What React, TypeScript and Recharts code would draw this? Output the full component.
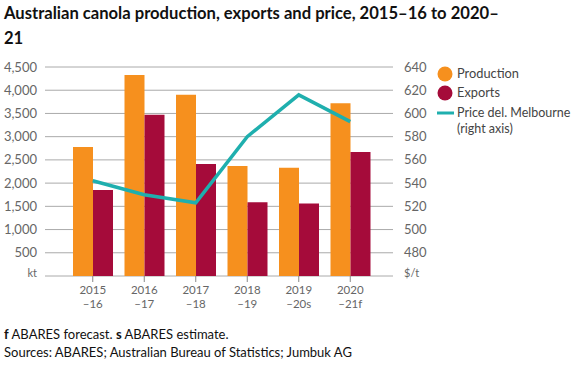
import React from "react";
import {
  ComposedChart,
  Bar,
  Line,
  XAxis,
  YAxis,
  CartesianGrid,
} from "recharts";

// seasons (two-line tick labels)
const seasonTop = ["2015", "2016", "2017", "2018", "2019", "2020"];
const seasonBottom = ["\u201316", "\u201317", "\u201318", "\u201319", "\u201320s", "\u201321f"];

// kt
const production = [2775, 4330, 3900, 2370, 2330, 3720];
const exports = [1850, 3470, 2410, 1590, 1560, 2670];
// $/t
const price = [542, 530, 523, 580, 616, 593];

const leftTicks = [0, 500, 1000, 1500, 2000, 2500, 3000, 3500, 4000, 4500];
const rightTicks = [460, 480, 500, 520, 540, 560, 580, 600, 620, 640];

const ORANGE = "#F6901E";
const MAROON = "#A50B3A";
const TEAL = "#1FAFAE";
const FONT = "Lato, 'Open Sans', sans-serif";

const data = seasonTop.map((s, i) => ({
  season: s,
  production: production[i],
  exports: exports[i],
  price: price[i],
}));

const XTick = (props: any) => {
  const { x, y, payload, index } = props;
  return (
    <g>
      <text x={x} y={y + 10} textAnchor="middle" fill="#666" fontSize={11.5} fontFamily={FONT}>
        {payload.value}
      </text>
      <text x={x} y={y + 24} textAnchor="middle" fill="#666" fontSize={11.5} fontFamily={FONT}>
        {seasonBottom[index]}
      </text>
    </g>
  );
};

const LeftTick = (props: any) => {
  const { x, y, payload } = props;
  const zero = payload.value === 0;
  return (
    <text x={x} y={zero ? y - 3 : y} dy="0.35em" textAnchor="end" fill="#666" fontSize={zero ? 11 : 13} fontFamily={FONT}>
      {zero ? "kt" : payload.value.toLocaleString("en-US")}
    </text>
  );
};

const RightTick = (props: any) => {
  const { x, y, payload } = props;
  const zero = payload.value === 460;
  return (
    <text x={x} y={zero ? y - 3 : y} dy="0.35em" textAnchor="start" fill="#666" fontSize={zero ? 11 : 13} fontFamily={FONT}>
      {zero ? "$/t" : payload.value}
    </text>
  );
};

const LegendBox = () => (
  <svg width={140} height={80} style={{ position: "absolute", left: 437, top: 66, overflow: "visible" }}>
    <circle cx={8} cy={8} r={7.5} fill={ORANGE} />
    <text x={20} y={8} dy="0.35em" fontSize={12.8} fill="#444" fontFamily={FONT}>Production</text>
    <circle cx={8} cy={27} r={7.5} fill={MAROON} />
    <text x={20} y={27} dy="0.35em" fontSize={12.8} fill="#444" fontFamily={FONT}>Exports</text>
    <line x1={0} x2={17} y1={47} y2={47} stroke={TEAL} strokeWidth={3} />
    <text x={20} y={47} dy="0.35em" fontSize={12.5} fill="#444" fontFamily={FONT}>Price del. Melbourne</text>
    <text x={20} y={62.5} dy="0.35em" fontSize={12.5} fill="#444" fontFamily={FONT}>(right axis)</text>
  </svg>
);

export default function App() {
  return (
    <div style={{ position: "absolute", left: 0, top: 0, width: 578, height: 370, background: "#fff", fontFamily: FONT }}>
      <div style={{ position: "absolute", left: 4, top: 1, width: 570, fontSize: 16.6, lineHeight: "25px", fontWeight: 700, color: "#111" }}>
        Australian canola production, exports and price, 2015–16 to 2020–
        <br />
        21
      </div>
      <div style={{ position: "absolute", top: 0, left: 0 }}>
        <ComposedChart
          width={578}
          height={370}
          data={data}
          margin={{ top: 67, right: 145, bottom: 60, left: 0 }}
          barGap={0}
        >
          <CartesianGrid yAxisId="left" horizontal vertical={false} stroke="#aaa" strokeWidth={1} />
          <XAxis
            dataKey="season"
            height={34}
            axisLine={false}
            tickLine={{ stroke: "#888" }}
            tickSize={6}
            tick={<XTick />}
            padding={{ left: 22, right: 17 }}
            interval={0}
          />
          <YAxis
            yAxisId="left"
            width={45}
            domain={[0, 4500]}
            ticks={leftTicks}
            interval={0}
            axisLine={false}
            tickLine={false}
            tickMargin={2}
            tick={<LeftTick />}
          />
          <YAxis
            yAxisId="right"
            orientation="right"
            width={40}
            domain={[460, 640]}
            ticks={rightTicks}
            interval={0}
            axisLine={false}
            tickLine={false}
            tickMargin={5}
            tick={<RightTick />}
          />
          <Bar yAxisId="left" dataKey="production" fill={ORANGE} barSize={20} isAnimationActive={false} />
          <Bar yAxisId="left" dataKey="exports" fill={MAROON} barSize={20} isAnimationActive={false} />
          <Line
            yAxisId="right"
            dataKey="price"
            stroke={TEAL}
            strokeWidth={3.5}
            dot={false}
            type="linear"
            isAnimationActive={false}
          />
        </ComposedChart>
      </div>
      <LegendBox />
      <div style={{ position: "absolute", left: 4, top: 325, fontSize: 13, lineHeight: "18px", color: "#111" }}>
        <div><b>f</b> ABARES forecast. <b>s</b> ABARES estimate.</div>
        <div>Sources: ABARES; Australian Bureau of Statistics; Jumbuk AG</div>
      </div>
    </div>
  );
}
